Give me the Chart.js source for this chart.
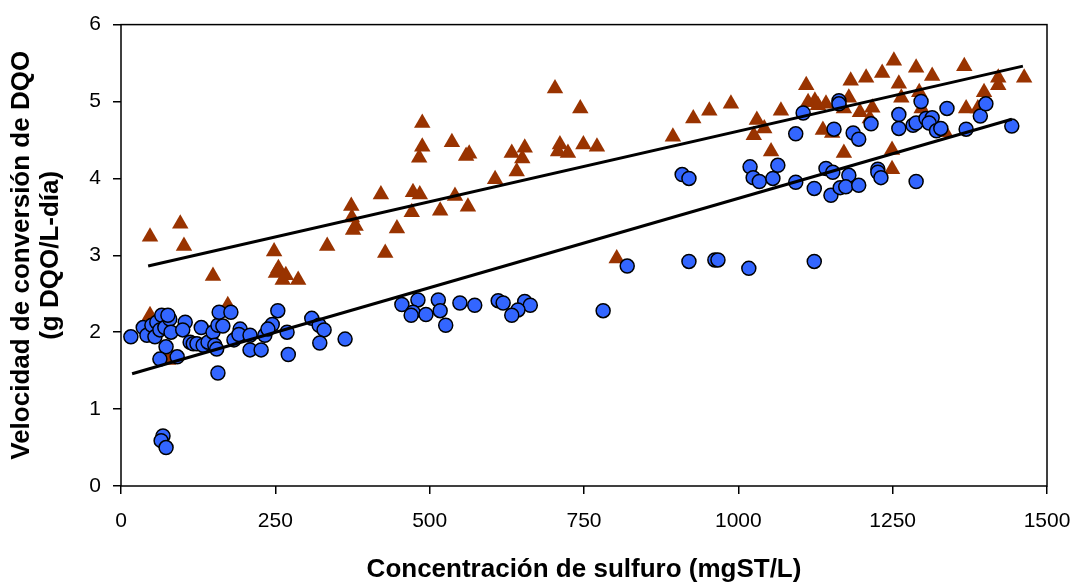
<!DOCTYPE html>
<html>
<head>
<meta charset="utf-8">
<script src="https://cdn.jsdelivr.net/npm/chart.js@4.4.1/dist/chart.umd.min.js"></script>
<style>
  body { margin: 0; background: #fff; }
  #wrap { width: 1075px; height: 584px; }
</style>
</head>
<body>
<div id="wrap"><canvas id="chart" width="1075" height="584"></canvas></div>
<script>
// Triangles (upper series) - sulfide conc vs rate
const triX = [47, 96, 102, 47, 149, 76, 173,
  248, 251, 255, 267, 262, 287, 334, 373, 374, 376, 380,
  428, 447, 421, 473, 484, 471, 517, 541, 562,
  488, 536, 488, 483, 559, 564, 633, 654, 650, 641, 606,
  703, 744, 711, 724, 708, 749, 771, 803,
  894, 927, 953, 988, 1030, 1042, 1025, 1053, 1069,
  1110, 1113, 1124, 1129, 1142, 1137, 1152, 1171, 1179, 1182, 1207, 1233, 1197, 1217, 1213, 1171,
  1252, 1288, 1314, 1366, 1260, 1264, 1293, 1297, 1421, 1421, 1463, 1398, 1369, 1388, 1335, 1249, 1249];
const triY = [3.24, 3.41, 3.12, 2.22, 2.73, 1.64, 2.35,
  3.05, 2.77, 2.83, 2.74, 2.68, 2.68, 3.12, 3.64, 3.49, 3.33, 3.38,
  3.03, 3.35, 3.79, 3.82, 3.79, 3.56, 3.58, 3.77, 3.63,
  4.72, 4.47, 4.41, 4.27, 4.29, 4.32, 4.33, 4.40, 4.26, 4.09, 3.99,
  5.17, 4.91, 4.44, 4.33, 4.35, 4.44, 4.41, 2.96,
  4.54, 4.78, 4.88, 4.97, 4.76, 4.65, 4.56, 4.35, 4.88,
  5.21, 4.99, 5.01, 4.95, 4.97, 4.63, 4.59, 4.91, 5.05, 5.27, 5.31, 5.37, 4.86, 4.92, 4.78, 4.33,
  5.53, 5.44, 5.33, 5.46, 5.23, 5.05, 5.12, 4.91, 5.31, 5.21, 5.31, 5.12, 4.91, 4.91, 4.60, 4.37, 4.12];

// Circles (lower series)
const cirX = [16, 36, 42, 50, 58, 66, 55, 63, 71, 79, 76, 81, 73, 63, 91, 104, 100, 112, 117, 123,
  130, 133, 141, 149, 152, 157, 155, 159, 178, 165, 157, 183, 193, 191, 209, 209, 227, 233, 245, 238,
  254, 269, 271,
  68, 65, 73,
  309, 321, 329, 322, 363,
  455, 481, 473, 470, 494, 514, 517, 526, 549, 573, 611, 619, 654, 663, 643, 633, 781, 820,
  909, 920, 920, 962, 967, 1017, 1123, 1019, 1024, 1034, 1056, 1064, 1093, 1093, 1105, 1163, 1163,
  1155, 1123, 1142, 1153, 1179, 1150, 1165, 1174, 1195, 1186, 1195, 1215, 1226, 1226, 1231,
  1296, 1338, 1260, 1260, 1283, 1288, 1304, 1314, 1309, 1321, 1328, 1369, 1392, 1401, 1443, 1288];
const cirY = [1.94, 2.06, 1.96, 2.09, 2.13, 2.22, 1.94, 2.03, 2.06, 2.17, 2.22, 2.00, 1.81, 1.65, 1.68, 2.13, 2.03, 1.87, 1.85, 1.85,
  2.06, 1.83, 1.87, 2.00, 1.83, 2.09, 1.78, 2.26, 2.26, 2.08, 1.47, 1.90, 2.04, 1.97, 1.96, 1.77, 1.77, 1.96, 2.10, 2.04,
  2.28, 2.00, 1.71,
  0.65, 0.59, 0.50,
  2.18, 2.09, 2.03, 1.86, 1.91,
  2.36, 2.42, 2.26, 2.22, 2.23, 2.42, 2.28, 2.09, 2.38, 2.35, 2.41, 2.38, 2.40, 2.35, 2.29, 2.22, 2.28, 2.86,
  4.05, 4.00, 2.92, 2.94, 2.94, 2.83, 2.92, 4.15, 4.01, 3.96, 4.00, 4.17, 3.95, 4.58, 4.85, 5.01, 4.97,
  4.64, 3.87, 4.13, 4.08, 4.04, 3.78, 3.88, 3.89, 3.91, 4.59, 4.51, 4.71, 4.12, 4.08, 4.01,
  5.00, 4.91, 4.83, 4.65, 4.69, 4.72, 4.78, 4.79, 4.72, 4.62, 4.65, 4.64, 4.81, 4.97, 4.68, 3.96];

// Trend line end points
const fitTriX = [44, 1461];
const fitTriY = [2.86, 5.46];
const fitCirX = [18, 1443];
const fitCirY = [1.46, 4.77];

const xTicks = [0, 250, 500, 750, 1000, 1250, 1500];

const pts = (xs, ys) => xs.map((x, i) => ({ x: x, y: ys[i] }));

// box round the plot area
const frame = {
    id: 'frame',
    afterDraw(chart) {
        const a = chart.chartArea;
        const ctx = chart.ctx;
        ctx.save();
        ctx.strokeStyle = '#000';
        ctx.lineWidth = 1.5;
        ctx.strokeRect(a.left, a.top, a.right - a.left, a.bottom - a.top);
        ctx.restore();
    }
};

const FONT = "'Liberation Sans', Arial, sans-serif";

new Chart(document.getElementById('chart'), {
    type: 'scatter',
    data: {
        datasets: [
            {
                data: pts(fitTriX, fitTriY), showLine: true, borderColor: '#000',
                borderWidth: 3, pointRadius: 0, order: 0
            },
            {
                data: pts(fitCirX, fitCirY), showLine: true, borderColor: '#000',
                borderWidth: 3, pointRadius: 0, order: 1
            },
            {
                data: pts(cirX, cirY), pointStyle: 'circle', pointRadius: 7,
                backgroundColor: '#3366ff', borderColor: '#000', borderWidth: 1.5, order: 2
            },
            {
                data: pts(triX, triY), pointStyle: 'triangle', pointRadius: 9.5,
                backgroundColor: '#993300', borderColor: '#993300', borderWidth: 0, order: 3
            }
        ]
    },
    options: {
        responsive: false,
        animation: false,
        layout: { padding: { top: 18, right: 28, left: 0, bottom: 0 } },
        plugins: { legend: { display: false }, tooltip: { enabled: false } },
        scales: {
            x: {
                min: 0, max: 1500,
                afterBuildTicks: s => { s.ticks = xTicks.map(v => ({ value: v })); },
                afterFit: s => { s.height = 98; s.paddingLeft = 0; s.paddingRight = 0; },
                grid: { drawOnChartArea: false, tickLength: 8, color: '#000', lineWidth: 1.5 },
                border: { display: false },
                ticks: {
                    color: '#000', padding: 15, maxRotation: 0,
                    font: { family: FONT, size: 21 },
                    callback: v => String(v)
                },
                title: {
                    display: true, text: 'Concentración de sulfuro (mgST/L)', color: '#000',
                    padding: { bottom: 0 }, font: { family: FONT, size: 26, weight: 'bold', lineHeight: 1.1 }
                }
            },
            y: {
                min: 0, max: 6,
                ticks: { stepSize: 1, color: '#000', padding: 12, font: { family: FONT, size: 21 } },
                afterFit: s => { s.width = 121; },
                grid: { drawOnChartArea: false, tickLength: 8, color: '#000', lineWidth: 1.5 },
                border: { display: false },
                title: {
                    display: true, text: ['Velocidad de conversión de DQO', '(g DQO/L-día)'], color: '#000',
                    padding: { top: 7 }, font: { family: FONT, size: 26, weight: 'bold', lineHeight: 1.12 }
                }
            }
        }
    },
    plugins: [frame]
});
</script>
</body>
</html>
